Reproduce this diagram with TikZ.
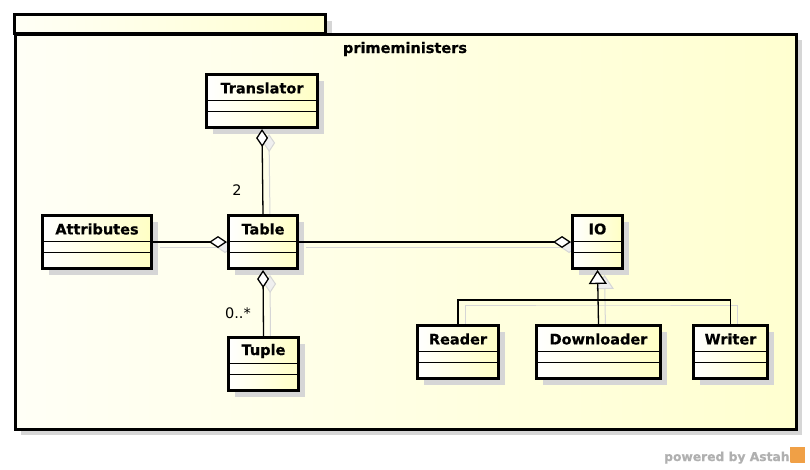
\documentclass[tikz,border=0pt]{standalone}
\usepackage{fontspec}
\newfontfamily\dv{DejaVu Sans}[BoldFeatures={FakeBold=0.6}]
\usetikzlibrary{arrows.meta,shadows,calc}
\pgfdeclarelayer{framelayer}
\pgfdeclarelayer{shadowlayer}
\pgfsetlayers{framelayer,shadowlayer,main}
\definecolor{umlyellow}{RGB}{255,255,196}
\definecolor{frameyellow}{RGB}{255,255,208}
\definecolor{framelight}{RGB}{255,255,246}
\definecolor{shadowgray}{RGB}{214,214,214}
\definecolor{poweredgray}{RGB}{176,176,176}
\definecolor{astahorange}{RGB}{240,160,70}
\tikzset{
  framebox/.style={draw=black, line width=3pt, left color=framelight, right color=frameyellow,
    drop shadow={shadow xshift=6pt, shadow yshift=-6pt, fill=shadowgray, opacity=1}},
  classbox/.style={draw=black, line width=3pt, left color=white, right color=umlyellow,
    drop shadow={shadow xshift=6pt, shadow yshift=-6pt, fill=shadowgray, opacity=1}},
  classname/.style={font=\dv\bfseries\fontsize{14.5}{16}\selectfont, inner sep=0pt},
  multlabel/.style={font=\dv\fontsize{14.5}{16}\selectfont, inner sep=0pt},
  divider/.style={line width=1pt},
  conn/.style={line width=1.3pt},
  connshadow/.style={line width=1pt, draw=shadowgray},
  aggr/.style={-{Diamond[fill=white, length=18pt, width=12pt]}},
  aggrstart/.style={{Diamond[fill=white, length=18pt, width=12pt]}-},
  aggrshadow/.style={-{Diamond[fill=shadowgray!40, length=18pt, width=12pt]}},
  aggrstartshadow/.style={{Diamond[fill=shadowgray!40, length=18pt, width=12pt]}-},
  gen/.style={-{Triangle[fill=white, length=14pt, width=18pt]}},
  genshadow/.style={-{Triangle[fill=shadowgray!40, length=14pt, width=18pt]}},
  sh/.style={xshift=7pt, yshift=-5pt},
}
\newcommand{\umlclass}[6]{%
  \node[classbox, minimum width=#5, minimum height=#6, inner sep=0pt] (#1) at (#3,#4) {};
  \node[classname] (#1-name) at ([yshift=-15pt]#1.north) {#2};
  \draw[divider] ([yshift=-27.5pt]#1.north west) -- ([yshift=-27.5pt]#1.north east);
  \draw[divider] ([yshift=-38.5pt]#1.north west) -- ([yshift=-38.5pt]#1.north east);
}
\begin{document}
\begin{tikzpicture}[x=1pt,y=-1pt]
\useasboundingbox (0,0) rectangle (810,469);

% package frame
\begin{pgfonlayer}{framelayer}
\fill[white] (0,0) rectangle (810,469);
\node[framebox, minimum width=311, minimum height=19, inner sep=0pt] (pkgtab) at (170,24) {};
\node[framebox, minimum width=781, minimum height=395, inner sep=0pt] (pkg) at (405.5,231.5) {};
\end{pgfonlayer}
\node[classname] (pkgname) at (405,49) {primeministers};

% classes
\umlclass{translator}{Translator}{262}{101}{111}{53}
\umlclass{attributes}{Attributes}{97}{242}{109}{53}
\umlclass{table}{Table}{263}{242}{69}{53}
\umlclass{tuple}{Tuple}{263.5}{364}{70}{53}
\umlclass{io}{IO}{597.5}{242}{50}{53}
\umlclass{reader}{Reader}{458}{352}{81}{53}
\umlclass{downloader}{Downloader}{598.5}{352}{124}{53}
\umlclass{writer}{Writer}{730.5}{352}{74}{53}

% connector shadows
\coordinate (bus) at (598,300);
\begin{pgfonlayer}{shadowlayer}
\draw[connshadow, aggrstartshadow] ([sh]translator.south) -- ([sh]table.north);
\draw[connshadow, aggrshadow] ([sh]attributes.east) -- ([sh]table.west);
\draw[connshadow, aggrstartshadow] ([sh]table.south) -- ([sh]tuple.north);
\draw[connshadow, aggrshadow] ([sh]table.east) -- ([sh]io.west);
\draw[connshadow] ([sh]reader.north) |- ([sh]bus) -| ([sh]writer.north);
\draw[connshadow, genshadow] ([sh]downloader.north) -- ([sh]io.south);
\end{pgfonlayer}

% connectors
\draw[conn, aggrstart] (translator.south) -- (table.north);
\draw[conn, aggr] (attributes.east) -- (table.west);
\draw[conn, aggrstart] (table.south) -- (tuple.north);
\draw[conn, aggr] (table.east) -- (io.west);
\draw[conn] (reader.north) |- (bus) -| (writer.north);
\draw[conn, gen] (downloader.north) -- (io.south);

% multiplicities
\node[multlabel] (m2) at (237,190) {2};
\node[multlabel] (m0) at (238,313) {0..*};

% powered by
\node[font=\dv\bfseries\fontsize{12.3}{14}\selectfont, text=poweredgray, anchor=base west, inner sep=0pt] (powered) at (664,461) {powered by Astah};
\node[fill=astahorange, minimum width=15pt, minimum height=16pt, inner sep=0pt, anchor=west] (logo) at ([xshift=0.5pt]powered.east |- 0,454.5) {};
\foreach \a in {20,60,100,140}{\draw[white, line width=0.8pt, opacity=0.6] (logo.south west) -- ++(\a:-14pt);}
\end{tikzpicture}
\end{document}
